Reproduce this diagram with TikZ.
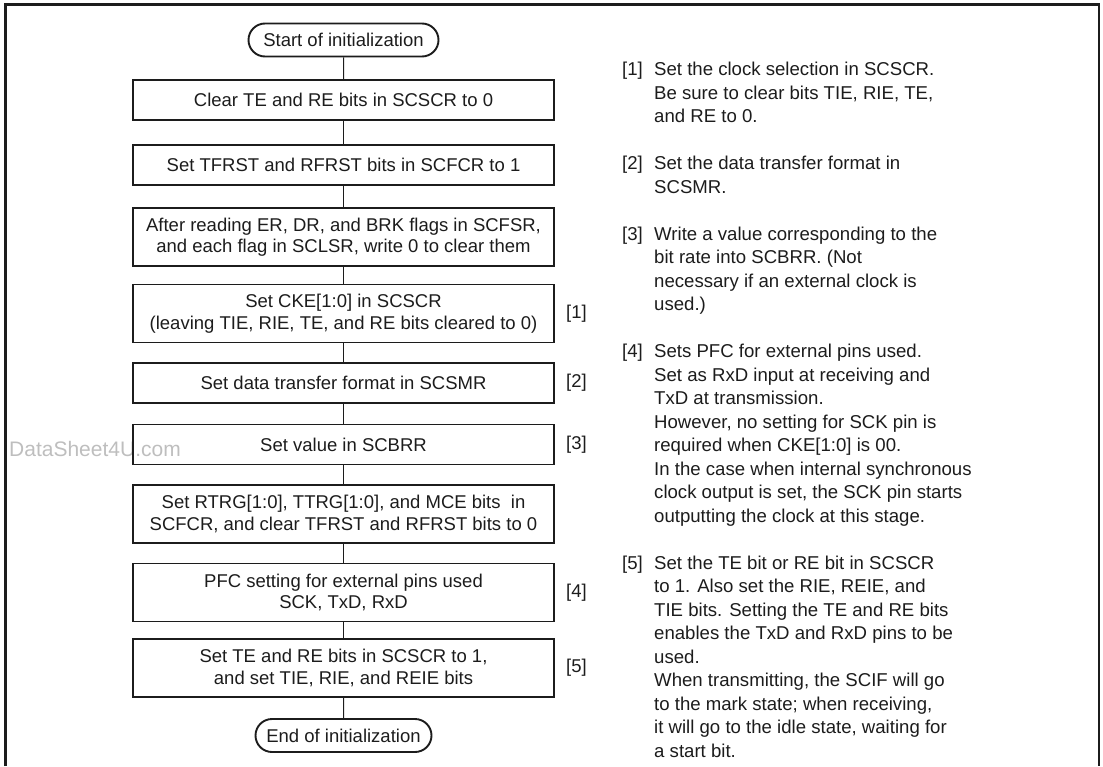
\documentclass[tikz,border=0pt]{standalone}
\usepackage{fontspec}
\setmainfont{Liberation Sans}
\usetikzlibrary{shapes.misc}
\definecolor{ink}{HTML}{1C1C1C}
\definecolor{wmgray}{HTML}{BEBEBE}
\begin{document}
\begin{tikzpicture}[x=1pt,y=-1pt,
  box/.style={draw=ink, line width=1.9pt, minimum width=421pt, inner sep=0pt, align=center,
              font=\fontsize{18.5}{21.5}\selectfont, text=ink},
  term/.style={rounded rectangle, draw=ink, line width=1.9pt, minimum height=33pt, inner sep=0pt,
               font=\fontsize{18.5}{22}\selectfont, text=ink},
  link/.style={draw=ink, line width=1pt},
  tag/.style={anchor=west, inner sep=0pt, font=\fontsize{18.5}{22}\selectfont, text=ink},
  note/.style={anchor=base west, inner sep=0pt, font=\fontsize{18.6}{22}\selectfont, text=ink},
  wmark/.style={anchor=west, inner sep=0pt, font=\fontsize{21}{24}\selectfont, text=wmgray}]
\useasboundingbox (0,0) rectangle (1103,766);
% frame
\draw[line width=2.8pt, ink] (5.5,766) -- (5.5,4.5) -- (1099,4.5) -- (1099,766);
% watermark
\node[wmark] (wm) at (9,449) {DataSheet4U.com};
% flow
\node[term, minimum width=190pt] (t1) at (343.5,40) {Start of initialization};
\node[box, minimum height=40pt] (b1) at (343.5,100) {Clear TE and RE bits in SCSCR to 0};
\node[box, minimum height=40pt] (b2) at (343.5,165) {Set TFRST and RFRST bits in SCFCR to 1};
\node[box, minimum height=58pt] (b3) at (343.5,237) {After reading ER, DR, and BRK flags in SCFSR,\\ and each flag in SCLSR, write 0 to clear them};
\node[box, minimum height=58pt] (b4) at (343.5,313.5) {Set CKE[1:0] in SCSCR\\ (leaving TIE, RIE, TE, and RE bits cleared to 0)};
\node[box, minimum height=40pt] (b5) at (343.5,383) {Set data transfer format in SCSMR};
\node[box, minimum height=40pt] (b6) at (343.5,444.5) {Set value in SCBRR};
\node[box, minimum height=58pt] (b7) at (343.5,514) {Set RTRG[1:0], TTRG[1:0], and MCE bits\ \ in\\ SCFCR, and clear TFRST and RFRST bits to 0};
\node[box, minimum height=58pt] (b8) at (343.5,592.5) {PFC setting for external pins used\\ SCK, TxD, RxD};
\node[box, minimum height=58pt] (b9) at (343.5,668) {Set TE and RE bits in SCSCR to 1,\\ and set TIE, RIE, and REIE bits};
\node[term, minimum width=176pt] (t2) at (343.5,735.5) {End of initialization};
\draw[link] (t1) -- (b1);
\draw[link] (b1) -- (b2);
\draw[link] (b2) -- (b3);
\draw[link] (b3) -- (b4);
\draw[link] (b4) -- (b5);
\draw[link] (b5) -- (b6);
\draw[link] (b6) -- (b7);
\draw[link] (b7) -- (b8);
\draw[link] (b8) -- (b9);
\draw[link] (b9) -- (t2);
% step tags
\node[tag] (k1) at ([xshift=11pt]b4.east) {[1]};
\node[tag] (k2) at ([xshift=11pt]b5.east) {[2]};
\node[tag] (k3) at ([xshift=11pt]b6.east) {[3]};
\node[tag] (k4) at ([xshift=11pt]b8.east) {[4]};
\node[tag] (k5) at ([xshift=11pt]b9.east) {[5]};
% notes
\node[note] (n1) at (622,75.5) {[1]};
\node[note] (n2) at (622,169.5) {[2]};
\node[note] (n3) at (622,240) {[3]};
\node[note] (n4) at (622,357.5) {[4]};
\node[note] (n5) at (622,569) {[5]};
\foreach \k/\t in {0/{Set the clock selection in SCSCR.},
  1/{Be sure to clear bits TIE, RIE, TE,},
  2/{and RE to 0.},
  4/{Set the data transfer format in},
  5/{SCSMR.},
  7/{Write a value corresponding to the},
  8/{bit rate into SCBRR. (Not},
  9/{necessary if an external clock is},
  10/{used.)},
  12/{Sets PFC for external pins used.},
  13/{Set as RxD input at receiving and},
  14/{TxD at transmission.},
  15/{However, no setting for SCK pin is},
  16/{required when CKE[1:0] is 00.},
  17/{In the case when internal synchronous},
  18/{clock output is set, the SCK pin starts},
  19/{outputting the clock at this stage.},
  21/{Set the TE bit or RE bit in SCSCR},
  22/{to 1. Also set the RIE, REIE, and},
  23/{TIE bits. Setting the TE and RE bits},
  24/{enables the TxD and RxD pins to be},
  25/{used.},
  26/{When transmitting, the SCIF will go},
  27/{to the mark state; when receiving,},
  28/{it will go to the idle state, waiting for},
  29/{a start bit.}}
  \node[note] (line\k) at (654,75.5+23.5*\k) {\t};
\end{tikzpicture}
\end{document}
